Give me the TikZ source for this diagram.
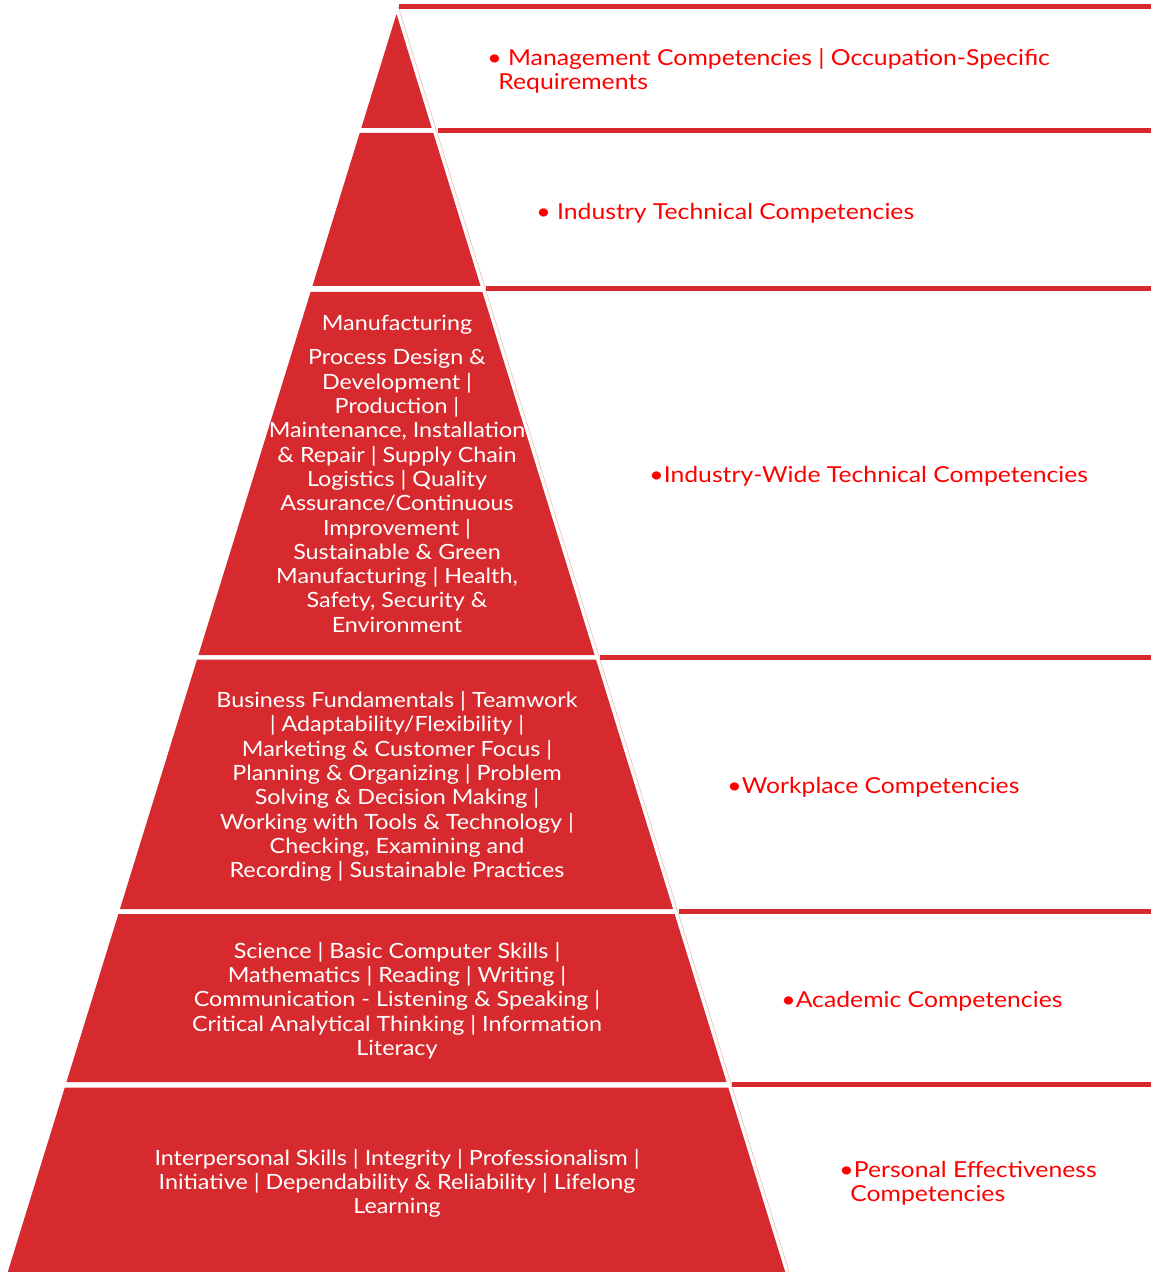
\documentclass[tikz,border=0pt]{standalone}
\usepackage{fontspec}
\setmainfont{Lato}
\newfontfamily\tierfont[FakeStretch=1.11]{Lato}
\newfontfamily\sidefont[FakeStretch=1.125]{Lato}
\definecolor{pyrred}{RGB}{214,42,46}
\definecolor{labelred}{RGB}{255,0,0}
\definecolor{edgepink}{RGB}{240,185,185}
\begin{document}
\begin{tikzpicture}[x=0.5pt,y=-0.5pt,
  tiertext/.style={text=white,align=center,inner sep=0pt,
    font=\tierfont\fontsize{10.5pt}{12.15pt}\selectfont},
  sidetext/.style={text=labelred,align=left,anchor=west,inner sep=0pt,
    font=\sidefont\fontsize{11pt}{12pt}\selectfont}]
\useasboundingbox (0,0) rectangle (1151,1272);
% tiers
\foreach \ya/\yb in {14/128,133/286,292/655,659.5/909,914/1082,1087.5/1272}{
  \pgfmathsetmacro\wa{0.309*(\ya-14)}
  \pgfmathsetmacro\wb{0.309*(\yb-14)}
  \fill[pyrred] (396.5-\wa,\ya) -- (396.5+\wa,\ya) -- (396.5+\wb,\yb) -- (396.5-\wb,\yb) -- cycle;
}
% side panels
\draw[edgepink,line width=0.3pt] (398,6) -- (789.2,1272);
\foreach \y in {6.5,130.5,289,657.3,911.5,1084.8}{
  \pgfmathsetmacro\xs{401.5+0.309*(\y-14)}
  \draw[pyrred,line width=2.5pt] (\xs,\y) -- (1151,\y);
}
% pyramid texts
\node[tiertext] (mfgtitle) at (397,324.5) {Manufacturing};
\node[tiertext] (mfg) at (397,491) {Process Design \&\\Development |\\Production |\\Maintenance, Installation\\\& Repair | Supply Chain\\Logistics | Quality\\Assurance/Continuous\\Improvement |\\Sustainable \& Green\\Manufacturing | Health,\\Safety, Security \&\\Environment};
\node[tiertext] (work) at (397,786.5) {Business Fundamentals | Teamwork\\| Adaptability/Flexibility |\\Marketing \& Customer Focus |\\Planning \& Organizing | Problem\\Solving \& Decision Making |\\Working with Tools \& Technology |\\Checking, Examining and\\Recording | Sustainable Practices};
\node[tiertext] (acad) at (397,1000.5) {Science | Basic Computer Skills |\\Mathematics | Reading | Writing |\\Communication - Listening \& Speaking |\\Critical Analytical Thinking | Information\\Literacy};
\node[tiertext] (pers) at (397,1183.5) {Interpersonal Skills | Integrity | Professionalism |\\Initiative | Dependability \& Reliability | Lifelong\\Learning};
% side labels
\node[sidetext] (mgmtlbl) at (487,70.5) {\textbullet{} Management Competencies | Occupation-Specific\\\hspace*{5.5pt}Requirements};
\node[sidetext] (techlbl) at (536,213.5) {\textbullet{} Industry Technical Competencies};
\node[sidetext] (widelbl) at (649,476.5) {\textbullet Industry-Wide Technical Competencies};
\node[sidetext] (worklbl) at (727,787.5) {\textbullet Workplace Competencies};
\node[sidetext] (acadlbl) at (781,1001.5) {\textbullet Academic Competencies};
\node[sidetext] (perslbl) at (839,1183.5) {\textbullet Personal Effectiveness\\\hspace*{5.5pt}Competencies};
\end{tikzpicture}
\end{document}
